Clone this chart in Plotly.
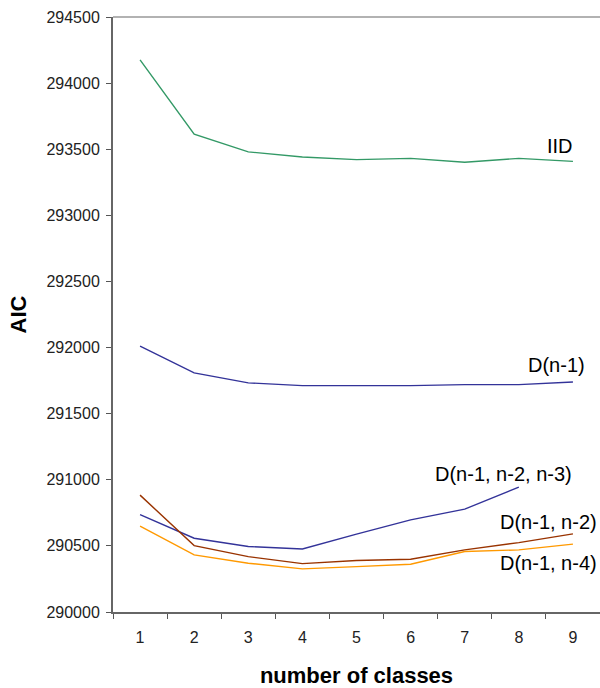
import plotly.graph_objects as go

classes = ["1", "2", "3", "4", "5", "6", "7", "8", "9"]
iid = [294176, 293614, 293480, 293441, 293421, 293431, 293401, 293431, 293408]
d1 = [292010, 291808, 291733, 291712, 291712, 291712, 291720, 291720, 291740]
d123 = [290737, 290558, 290495, 290477, 290589, 290697, 290778, 290945, None]
d12 = [290884, 290502, 290419, 290366, 290389, 290399, 290470, 290525, 290591]
d14 = [290649, 290432, 290369, 290326, 290343, 290361, 290457, 290470, 290513]

series = [
    ("IID", iid, "#339966"),
    ("D(n-1)", d1, "#333399"),
    ("D(n-1, n-2, n-3)", d123, "#333399"),
    ("D(n-1, n-2)", d12, "#993300"),
    ("D(n-1, n-4)", d14, "#FF9900"),
]
label_pos = {
    "IID": (0.918, 0.783),
    "D(n-1)": (0.910, 0.415),
    "D(n-1, n-2, n-3)": (0.801, 0.232),
    "D(n-1, n-2)": (0.895, 0.151),
    "D(n-1, n-4)": (0.895, 0.082),
}

FONT = "Liberation Sans, Arial, sans-serif"
fig = go.Figure()
for name, vals, col in series:
    fig.add_trace(go.Scatter(x=classes, y=vals, mode="lines", name=name,
                             line=dict(color=col, width=1.4), connectgaps=False))

annotations = []
for name, _, _ in series:
    px, py = label_pos[name]
    annotations.append(dict(text=name, x=px, y=py, xref="paper", yref="paper",
                            xanchor="center", yanchor="middle", showarrow=False,
                            font=dict(family=FONT, size=20, color="#000")))

fig.update_layout(
    width=600, height=688,
    margin=dict(l=113, r=0, t=17, b=76),
    paper_bgcolor="white", plot_bgcolor="white",
    showlegend=False,
    font=dict(family=FONT, size=16, color="#000"),
    annotations=annotations,
    xaxis=dict(type="category", range=[-0.5, 8.5], tickson="boundaries",
               ticks="outside", ticklen=5,
               tickcolor="#555", showline=True, linecolor="#666", linewidth=2,
               mirror=False, showgrid=False, zeroline=False,
               tickfont=dict(size=16, color="#222"), ticklabelstandoff=10,
               title=dict(text="<b>number of classes</b>", standoff=22,
                          font=dict(size=22, color="#000"))),
    yaxis=dict(range=[290000, 294500], dtick=500, ticks="outside", ticklen=5,
               tickcolor="#555", showline=True, linecolor="#666", linewidth=2,
               showgrid=False, zeroline=False, tickformat="d",
               tickfont=dict(size=16, color="#222"), ticklabelstandoff=3,
               title=dict(text="<b>AIC</b>", standoff=14,
                          font=dict(size=22, color="#000"))),
    shapes=[dict(type="line", xref="paper", yref="paper", x0=0, x1=1, y0=1, y1=1,
                 line=dict(color="#999", width=1.5))],
)

fig.write_html("out.html")
